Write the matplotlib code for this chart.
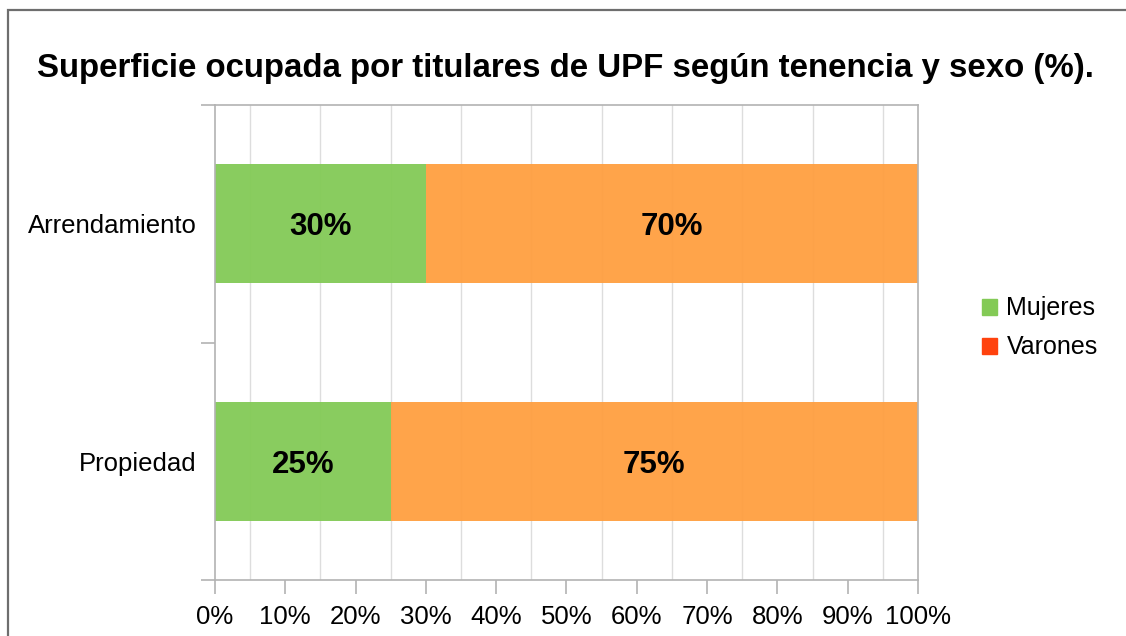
import matplotlib
matplotlib.use("Agg")
import matplotlib.pyplot as plt
from matplotlib.patches import Patch, Rectangle
from matplotlib.ticker import FixedLocator

plt.rcParams["font.family"] = ["Liberation Sans", "DejaVu Sans"]

# ─── Data ─────────────────────────────────────────────────────────────────────
categorias = ["Propiedad", "Arrendamiento"]
mujeres = [25, 30]
varones = [75, 70]
xticks = [0, 10, 20, 30, 40, 50, 60, 70, 80, 90, 100]
xtick_labels = [f"{v}%" for v in xticks]
grid_pos = [5, 15, 25, 35, 45, 55, 65, 75, 85, 95]

titulo = "Superficie ocupada por titulares de UPF según tenencia y sexo (%)."

verde = "#83ca56"
naranja = "#ff9f40"
rojo_leyenda = "#ff420e"
gris_eje = "#b3b3b3"

# ─── Figure ───────────────────────────────────────────────────────────────────
fig = plt.figure(figsize=(11.26, 6.36), dpi=100)
W, H = 1126, 636
ax = fig.add_axes([215 / W, 1 - 580 / H, 703 / W, 475 / H])

pos = list(range(len(categorias)))
ax.barh(pos, mujeres, height=0.5, color=verde, alpha=0.95, zorder=2)
ax.barh(pos, varones, left=mujeres, height=0.5, color=naranja, alpha=0.95, zorder=2)

# bar labels
for i in pos:
    ax.text(mujeres[i] / 2, i, f"{mujeres[i]}%", ha="center", va="center_baseline",
            fontsize=22.5, fontweight="bold", zorder=3)
    ax.text(mujeres[i] + varones[i] / 2, i, f"{varones[i]}%", ha="center",
            va="center_baseline", fontsize=22.5, fontweight="bold", zorder=3)

ax.set_xlim(0, 100)
ax.set_ylim(-0.5, len(categorias) - 0.5)

# gridlines sit between the labelled ticks
for g in grid_pos:
    ax.axvline(g, color="#dddddd", lw=1, zorder=1)

ax.set_xticks(xticks)
ax.set_xticklabels(xtick_labels, fontsize=18.5)
ax.tick_params(axis="x", length=10, width=1.2, color=gris_eje, pad=8)

# y: ticks at band edges, labels at band centres
ax.yaxis.set_major_locator(FixedLocator([-0.5, 0.5, 1.5]))
ax.set_yticklabels([])
ax.set_yticks(pos, minor=True)
ax.set_yticklabels(categorias, minor=True, fontsize=18.5)
ax.tick_params(axis="y", which="major", length=10, width=1.2, color=gris_eje)
ax.tick_params(axis="y", which="minor", length=0, pad=13)

for s in ax.spines.values():
    s.set_color(gris_eje)
    s.set_linewidth(1.2)

ax.set_title(titulo, fontsize=23.8, fontweight="bold", pad=20)
ax.title.set_position(((565 - 215) / 703, 1.0))

# legend (handles show the default series colours)
handles = [Patch(color=verde, label="Mujeres"), Patch(color=rojo_leyenda, label="Varones")]
fig.legend(handles=handles, loc="center left", bbox_to_anchor=(959 / W, 1 - 328 / H),
           frameon=False, fontsize=18, handlelength=0.6, handleheight=0.6,
           handletextpad=0.4, labelspacing=0.6)

# outer border
fig.patches.append(Rectangle((8 / W, -0.1), 1.2, 1 - 10 / H + 0.1, transform=fig.transFigure,
                             fill=False, edgecolor="#6e6e6e", lw=1.6))

fig.savefig("out.png", dpi=100)
